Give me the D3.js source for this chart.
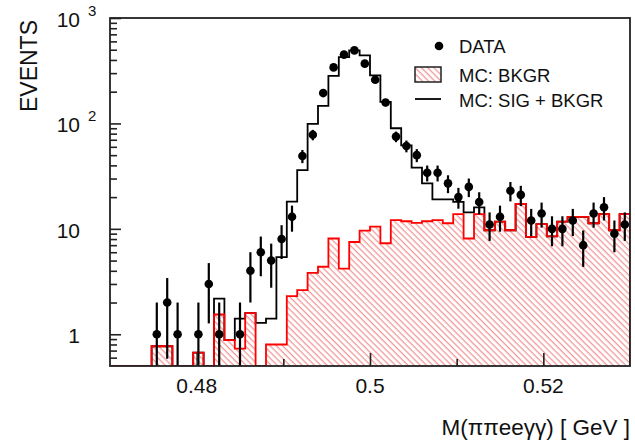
<!DOCTYPE html>
<html>
<head>
<meta charset="utf-8">
<script src="https://cdn.jsdelivr.net/npm/d3@7"></script>
<style>
  html, body { margin: 0; padding: 0; background: #fff; }
  svg { display: block; }
  text { font-family: "Liberation Sans", Arial, Helvetica, sans-serif; fill: #111; }
</style>
</head>
<body>
<svg id="chart" width="635" height="443"></svg>
<script>
// ---- Data ----
const binLow = 0.47;          // GeV, first bin low edge
const binWidth = 0.0012;      // GeV
const nBins = 50;

// DATA counts per bin (index 0..49)
const dataCounts = [0,0,0,0,1,2,1,0,1,3,
                    1,0,1,4,6,5,8,13,49,78,
                    194,340,449,493,369,260,158,75,61,50,
                    34,34,27,20,25,18,11,13,23,21,
                    12,14,10,10,12,7,14,16,9,11];

// MC background (red hatched)
const mcBkgr = [0,0,0,0,0.77,0.77,0,0,0.67,0,
                1.54,0.88,0.73,1.59,0,0.8,0.8,2.3,2.62,3.83,
                4.37,8.1,4.2,7.5,9.6,10.5,7.3,12.1,11.8,11.4,
                11.8,12.1,11.3,13.8,8.1,13.8,9.7,11.7,9.7,17.2,
                8.4,11.1,8.5,11.7,13,13,11.3,13.8,9.7,13.8];

// MC signal + background (black line)
const mcSigBkgr = [0,0,0,0,0.77,0.77,0,0,0.67,0,
                   2.18,0.88,1.41,1.59,1.28,1.41,5.4,18.1,36,99,
                   147,282,425,493,442,285,160,90,62,38,
                   27,19,19,18,14.3,16,9.7,11.7,9.7,17.2,
                   8.4,11.1,8.5,11.7,13,13,11.3,13.8,9.7,13.8];

const xMajorTicks = [0.48, 0.50, 0.52];
const xMajorLabels = ["0.48", "0.5", "0.52"];
const xMinorTicks = [0.49, 0.51];
const yDecades = [1, 10, 100, 1000];
const yDecadeBase = ["1", "10", "10", "10"];
const yDecadeExp = ["", "", "2", "3"];
const yMinorTicks = [0.6,0.7,0.8,0.9,2,3,4,5,6,7,8,9,20,30,40,50,60,70,80,90,200,300,400,500,600,700,800,900];
const legendLabels = ["DATA", "MC: BKGR", "MC: SIG + BKGR"];

// ---- Layout ----
const mL = 110, mR = 630, mT = 18, mB = 366;
const svg = d3.select("#chart");

const x = d3.scaleLinear().domain([0.47, 0.53]).range([mL, mR]);
const y = d3.scaleLog().domain([0.5, 1000]).range([mB, mT]);
const yc = v => v > 0 ? Math.min(mB, y(v)) : mB;

const bins = d3.range(nBins).map(i => ({
  lo: binLow + i * binWidth,
  hi: binLow + (i + 1) * binWidth,
  mid: binLow + (i + 0.5) * binWidth,
  data: dataCounts[i], bkg: mcBkgr[i], tot: mcSigBkgr[i]
}));

// hatch pattern
const defs = svg.append("defs");
const pat = defs.append("pattern")
  .attr("id", "hatch").attr("patternUnits", "userSpaceOnUse")
  .attr("width", 8).attr("height", 4.4)
  .attr("patternTransform", "rotate(45)");
pat.append("rect").attr("x", 0).attr("y", 0).attr("width", 8).attr("height", 4.4).attr("fill", "#fff");
pat.append("rect").attr("x", 0).attr("y", 0).attr("width", 8).attr("height", 1.3).attr("fill", "#f39a9a");

defs.append("clipPath").attr("id", "plotclip").append("rect")
  .attr("x", mL).attr("y", mT).attr("width", mR - mL).attr("height", mB - mT);

// step points
function stepPoints(key) {
  const pts = [];
  bins.forEach(b => {
    pts.push([x(b.lo), yc(b[key])]);
    pts.push([x(b.hi), yc(b[key])]);
  });
  return pts;
}

const plot = svg.append("g").attr("clip-path", "url(#plotclip)");

// red hatched area
const bkgPts = stepPoints("bkg");
plot.append("path")
  .attr("d", d3.area().x(d => d[0]).y0(mB).y1(d => d[1])(bkgPts))
  .attr("fill", "url(#hatch)").attr("stroke", "none");

// black line (sig+bkgr)
plot.append("path")
  .attr("d", d3.line()([[x(binLow), mB], ...stepPoints("tot"), [x(binLow + nBins*binWidth), mB]]))
  .attr("fill", "none").attr("stroke", "#000").attr("stroke-width", 1.8);

// red outline
plot.append("path")
  .attr("d", d3.line()([[x(binLow), mB], ...bkgPts, [x(binLow + nBins*binWidth), mB]]))
  .attr("fill", "none").attr("stroke", "#ff0000").attr("stroke-width", 1.8);

// data points with error bars
const pts = bins.filter(b => b.data > 0);
plot.selectAll("line.err").data(pts).join("line")
  .attr("class", "err")
  .attr("x1", d => x(d.mid)).attr("x2", d => x(d.mid))
  .attr("y1", d => yc(d.data + Math.sqrt(d.data)))
  .attr("y2", d => yc(d.data - Math.sqrt(d.data)))
  .attr("stroke", "#000").attr("stroke-width", 2.2);
plot.selectAll("circle.pt").data(pts).join("circle")
  .attr("class", "pt")
  .attr("cx", d => x(d.mid)).attr("cy", d => y(d.data))
  .attr("r", 4.3).attr("fill", "#000");

// frame
const frame = svg.append("g");
frame.append("rect").attr("x", mL).attr("y", mT).attr("width", mR - mL).attr("height", mB - mT)
  .attr("fill", "none").attr("stroke", "#222").attr("stroke-width", 1.8);

// y ticks (inward)
const yAxisMajor = d3.axisLeft(y).tickValues(yDecades).tickSize(-11).tickFormat("");
const yAxisMinor = d3.axisLeft(y).tickValues(yMinorTicks).tickSize(-7).tickFormat("");
[yAxisMajor, yAxisMinor].forEach(ax => {
  const g = svg.append("g").attr("transform", `translate(${mL},0)`).call(ax);
  g.select(".domain").remove();
  g.selectAll("line").attr("stroke", "#222").attr("stroke-width", 1.6);
});
// x ticks (inward)
const xAxisMajor = d3.axisBottom(x).tickValues(xMajorTicks).tickSize(-13).tickFormat("");
const xAxisMinor = d3.axisBottom(x).tickValues(xMinorTicks).tickSize(-7).tickFormat("");
[xAxisMajor, xAxisMinor].forEach(ax => {
  const g = svg.append("g").attr("transform", `translate(0,${mB})`).call(ax);
  g.select(".domain").remove();
  g.selectAll("line").attr("stroke", "#222").attr("stroke-width", 1.6);
});

// y tick labels
yDecades.forEach((v, i) => {
  svg.append("text").attr("x", 80).attr("y", y(v) + 9)
    .attr("text-anchor", "end").attr("font-size", 21).text(yDecadeBase[i]);
  if (yDecadeExp[i]) {
    svg.append("text").attr("x", 88).attr("y", y(v) - 2)
      .attr("font-size", 15).text(yDecadeExp[i]);
  }
});

// x tick labels
xMajorTicks.forEach((v, i) => {
  svg.append("text").attr("x", x(v)).attr("y", 393)
    .attr("text-anchor", "middle").attr("font-size", 21).text(xMajorLabels[i]);
});

// axis titles
svg.append("text").attr("x", 630).attr("y", 435).attr("text-anchor", "end")
  .attr("font-size", 22.5).text("M(ππeeγγ) [ GeV ]");
svg.append("text").attr("transform", "translate(37,20) rotate(-90)")
  .attr("text-anchor", "end").attr("font-size", 23).text("EVENTS");

// legend
const lg = svg.append("g");
lg.append("circle").attr("cx", 439).attr("cy", 46).attr("r", 4.3).attr("fill", "#000");
lg.append("rect").attr("x", 415).attr("y", 67).attr("width", 26).attr("height", 15)
  .attr("fill", "url(#hatch)").attr("stroke", "#222").attr("stroke-width", 1.5);
lg.append("line").attr("x1", 415).attr("x2", 441).attr("y1", 99).attr("y2", 99)
  .attr("stroke", "#000").attr("stroke-width", 1.8);
[53, 82, 107].forEach((yy, i) => {
  lg.append("text").attr("x", 459).attr("y", yy).attr("font-size", 18.5).text(legendLabels[i]);
});
</script>
</body>
</html>
